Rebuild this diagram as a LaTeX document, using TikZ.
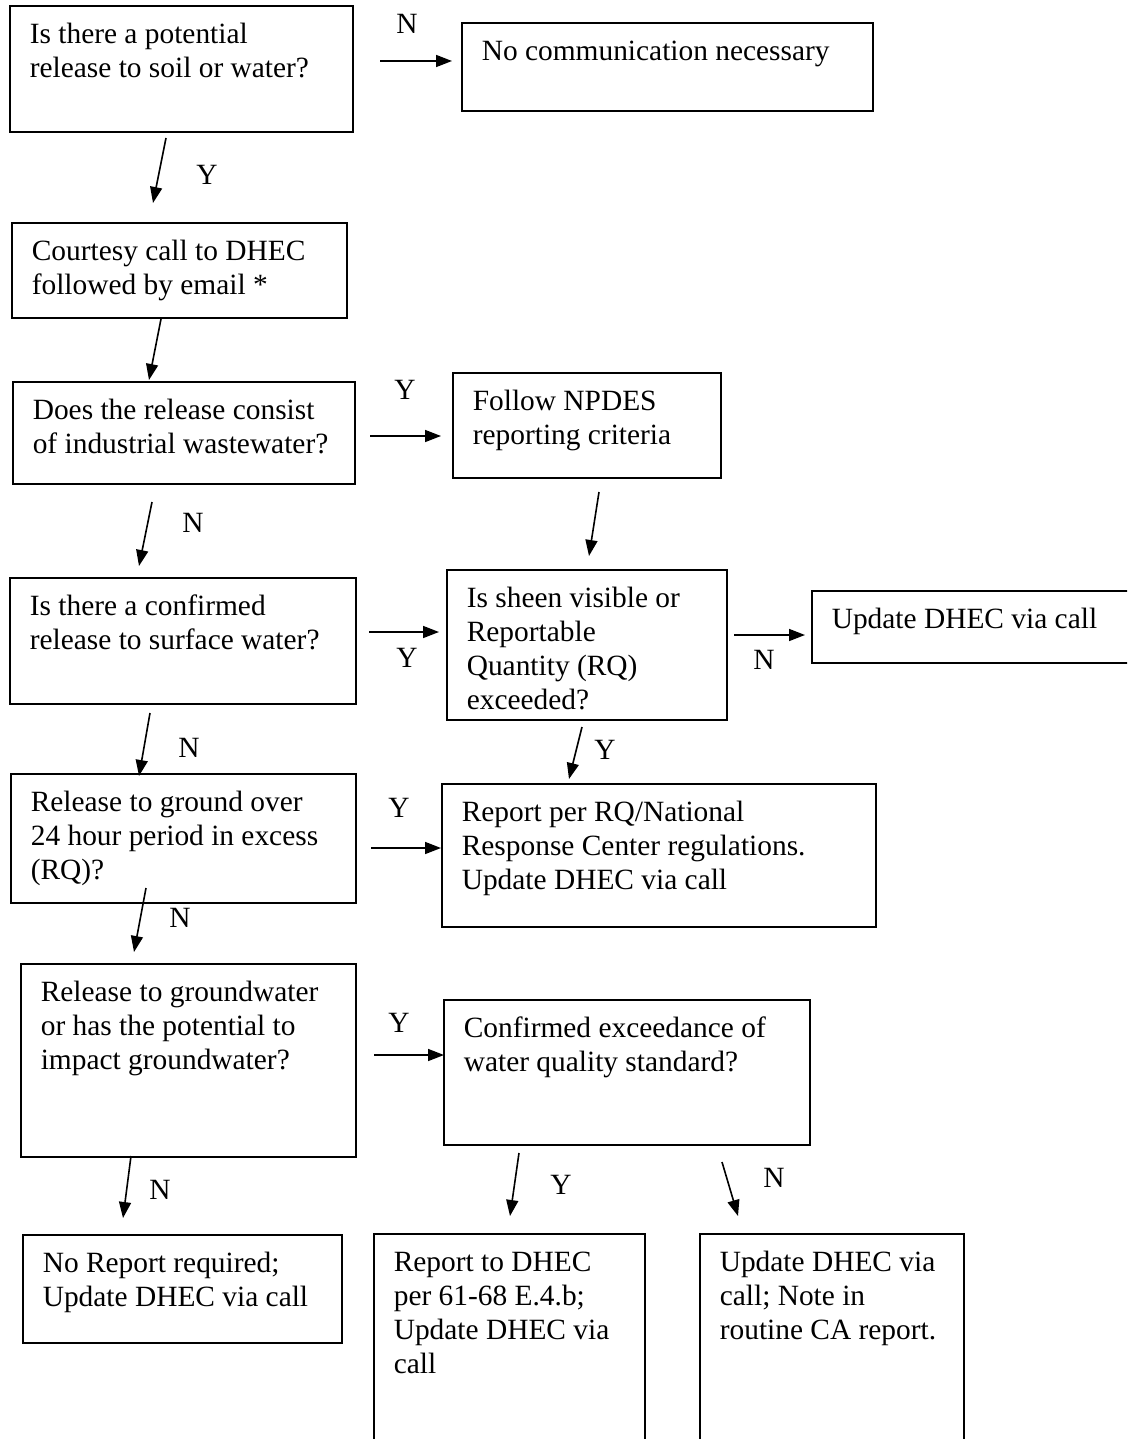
\documentclass[tikz,border=0pt]{standalone}
\usepackage{fontspec}
\setmainfont{Liberation Serif}
\usetikzlibrary{arrows.meta}
\newcommand\bt[3]{\begin{minipage}[t][#2][t]{#1}\raggedright\leftskip=20pt\rule{0pt}{38pt}#3\end{minipage}}
\begin{document}
\begin{tikzpicture}[x=1pt,y=-1pt,
  every node/.style={font=\fontsize{29.4}{33.8}\selectfont},
  box/.style={draw=black,line width=1.6pt,inner sep=0pt,anchor=north west},
  lbl/.style={inner sep=0pt},
  arr/.style={line width=1.6pt,-{Triangle[length=16pt,width=12pt]}}]
\useasboundingbox (0,0) rectangle (1127,1439);
\clip (0,0) rectangle (1127,1439);
\fill[white] (0,0) rectangle (1127,1439);
% boxes
\node[box] (b1) at (9,5) {\bt{343pt}{126pt}{Is there a potential\\release to soil or water?}};
\node[box] (nocomm) at (461,22) {\bt{411pt}{88pt}{No communication necessary}};
\node[box] (b2) at (11,222) {\bt{335pt}{95pt}{Courtesy call to DHEC\\followed by email *}};
\node[box] (b3) at (12,381) {\bt{342pt}{102pt}{Does the release consist\\of industrial wastewater?}};
\node[box] (npdes) at (452,372) {\bt{268pt}{105pt}{Follow NPDES\\reporting criteria}};
\node[box] (b4) at (9,577) {\bt{346pt}{126pt}{Is there a confirmed\\release to surface water?}};
\node[box] (sheen) at (446,569) {\bt{280pt}{150pt}{Is sheen visible or\\Reportable\\Quantity (RQ)\\exceeded?}};
\node[box] (upd) at (811,590) {\bt{324pt}{72pt}{Update DHEC via call}};
\node[box] (b5) at (10,773) {\bt{345pt}{129pt}{Release to ground over\\24 hour period in excess\\(RQ)?}};
\node[box] (report) at (441,783) {\bt{434pt}{143pt}{Report per RQ/National\\Response Center regulations.\\Update DHEC via call}};
\node[box] (b6) at (20,963) {\bt{335pt}{193pt}{Release to groundwater\\or has the potential to\\impact groundwater?}};
\node[box] (conf) at (443,999) {\bt{366pt}{145pt}{Confirmed exceedance of\\water quality standard?}};
\node[box] (noreport) at (22,1234) {\bt{319pt}{108pt}{No Report required;\\Update DHEC via call}};
\node[box] (repdhec) at (373,1233) {\bt{271pt}{220pt}{Report to DHEC\\per 61-68 E.4.b;\\Update DHEC via\\call}};
\node[box] (updca) at (699,1233) {\bt{264pt}{220pt}{Update DHEC via\\call; Note in\\routine CA report.}};
% connector end points
\coordinate (a1s) at (380,61);   \coordinate (a1e) at (452,61);
\coordinate (a2s) at (166,138);  \coordinate (a2e) at (153,203);
\coordinate (a3s) at (161,319);  \coordinate (a3e) at (149,380);
\coordinate (a4s) at (370,436);  \coordinate (a4e) at (441,436);
\coordinate (a5s) at (599,492);  \coordinate (a5e) at (589,556);
\coordinate (a6s) at (152,502);  \coordinate (a6e) at (139,566);
\coordinate (a7s) at (369,632);  \coordinate (a7e) at (439,632);
\coordinate (a8s) at (734,635);  \coordinate (a8e) at (805,635);
\coordinate (a9s) at (150,713);  \coordinate (a9e) at (139,776);
\coordinate (a10s) at (582,727); \coordinate (a10e) at (569,779);
\coordinate (a11s) at (371,848); \coordinate (a11e) at (441,848);
\coordinate (a12s) at (146,888); \coordinate (a12e) at (134,952);
\coordinate (a13s) at (374,1055); \coordinate (a13e) at (444,1055);
\coordinate (a14s) at (131,1156); \coordinate (a14e) at (123,1218);
\coordinate (a15s) at (519,1153); \coordinate (a15e) at (510,1216);
\coordinate (a16s) at (722,1162); \coordinate (a16e) at (738,1216);
\foreach \i in {1,...,16} {\draw[arr] (a\i s) -- (a\i e);}
% labels
\node[lbl] (l1) at (407,24) {N};
\node[lbl] (l2) at (207,175) {Y};
\node[lbl] (l4) at (405,390) {Y};
\node[lbl] (l6) at (193,523) {N};
\node[lbl] (l7) at (407,658) {Y};
\node[lbl] (l8) at (764,660) {N};
\node[lbl] (l9) at (189,748) {N};
\node[lbl] (l10) at (605,750) {Y};
\node[lbl] (l11) at (399,808) {Y};
\node[lbl] (l12) at (180,918) {N};
\node[lbl] (l13) at (399,1023) {Y};
\node[lbl] (l14) at (160,1190) {N};
\node[lbl] (l15) at (561,1185) {Y};
\node[lbl] (l16) at (774,1178) {N};
\end{tikzpicture}
\end{document}
